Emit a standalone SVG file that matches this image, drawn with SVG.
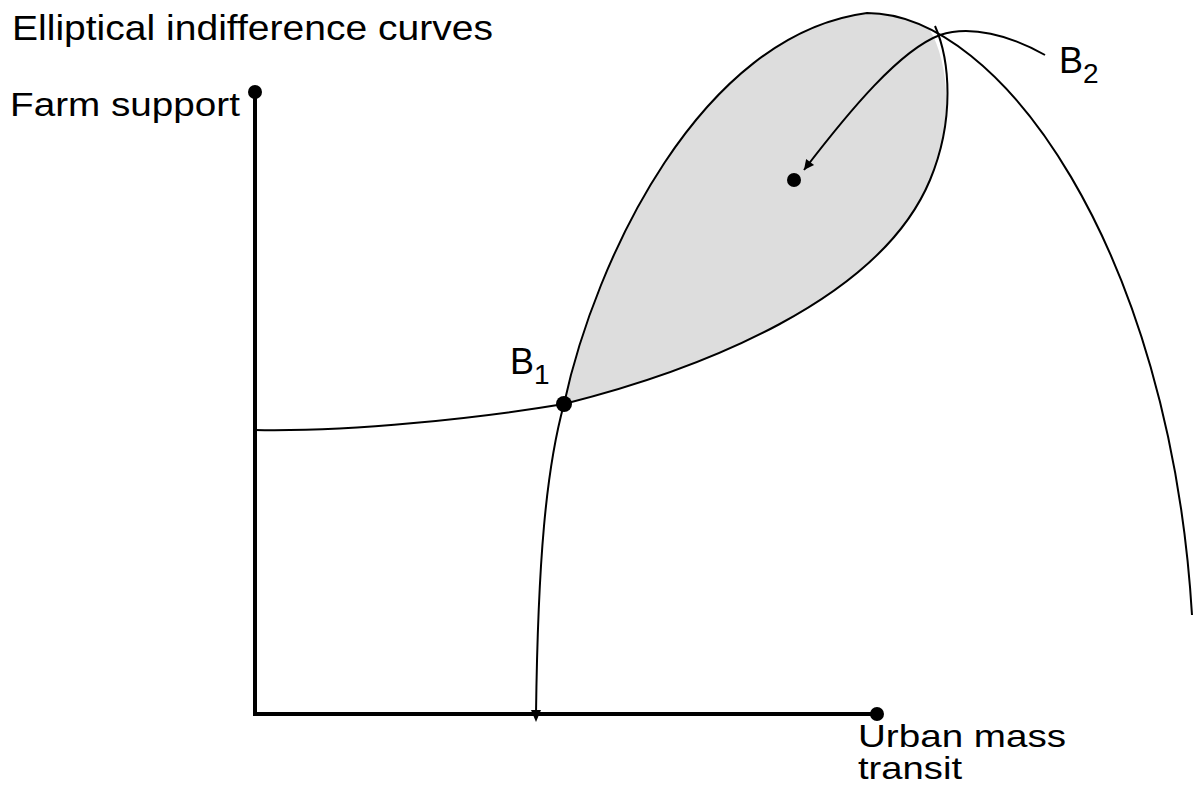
<svg xmlns="http://www.w3.org/2000/svg" width="1193" height="795" viewBox="0 0 1193 795">
<style>
.t{font-family:"Liberation Sans",Arial,sans-serif;fill:#000}
.c{fill:none;stroke:#000;stroke-width:2}
.ax{fill:none;stroke:#000;stroke-width:4}
</style>
<defs>
<marker id="ah" viewBox="0 0 10 10" refX="10" refY="5" markerWidth="12" markerHeight="10" markerUnits="userSpaceOnUse" orient="auto">
<path d="M0,0 L10,5 L0,10 Z" fill="#000"/>
</marker>
</defs>
<rect width="1193" height="795" fill="#fff"/>
<g id="lens">
<path d="M564,404 C595,260 700,35 867,13 C886.95,13 907.7,18.33 929,28.6 C948,60 955,120 930,180 C880,300 700,370 564,404 Z" fill="#dddddd" stroke="none"/>
</g>
<g id="connectors">
<path class="c" d="M536,714 C538,560 546,470 564,404 C595,260 700,35 867,13 C1000,13 1170,250 1192,615"/>
<path class="c" d="M255,430 C350,432 480,418 564,404 C700,370 880,300 930,180 C955,120 950,60 935,26"/>
<path class="c" d="M1045,55 C1010,35 970,25 940,35 C900,50 850,110 804,170" marker-end="url(#ah)"/>
<path d="M531,710 L541,710 L536,722 Z" fill="#000"/>
</g>
<g id="axes">
<path class="ax" d="M255,92 L255,714 L877,714"/>
<circle cx="255" cy="92" r="7"/>
<circle cx="877" cy="714" r="7"/>
</g>
<g id="B1">
<circle cx="564" cy="404" r="8"/>
<text class="t" x="510" y="374" font-size="36">B<tspan font-size="28" dy="10">1</tspan></text>
</g>
<g id="B2">
<text class="t" x="1059" y="73" font-size="36">B<tspan font-size="28" dy="10">2</tspan></text>
</g>
<g id="ideal">
<circle cx="794" cy="180" r="7"/>
</g>
<text class="t" x="12" y="40" font-size="35" textLength="481" lengthAdjust="spacingAndGlyphs">Elliptical indifference curves</text>
<text class="t" x="10" y="116" font-size="33" textLength="230" lengthAdjust="spacingAndGlyphs">Farm support</text>
<text class="t" font-size="32"><tspan x="858" y="747" textLength="208" lengthAdjust="spacingAndGlyphs">Urban mass</tspan><tspan x="858" y="779" textLength="104" lengthAdjust="spacingAndGlyphs">transit</tspan></text>
</svg>
